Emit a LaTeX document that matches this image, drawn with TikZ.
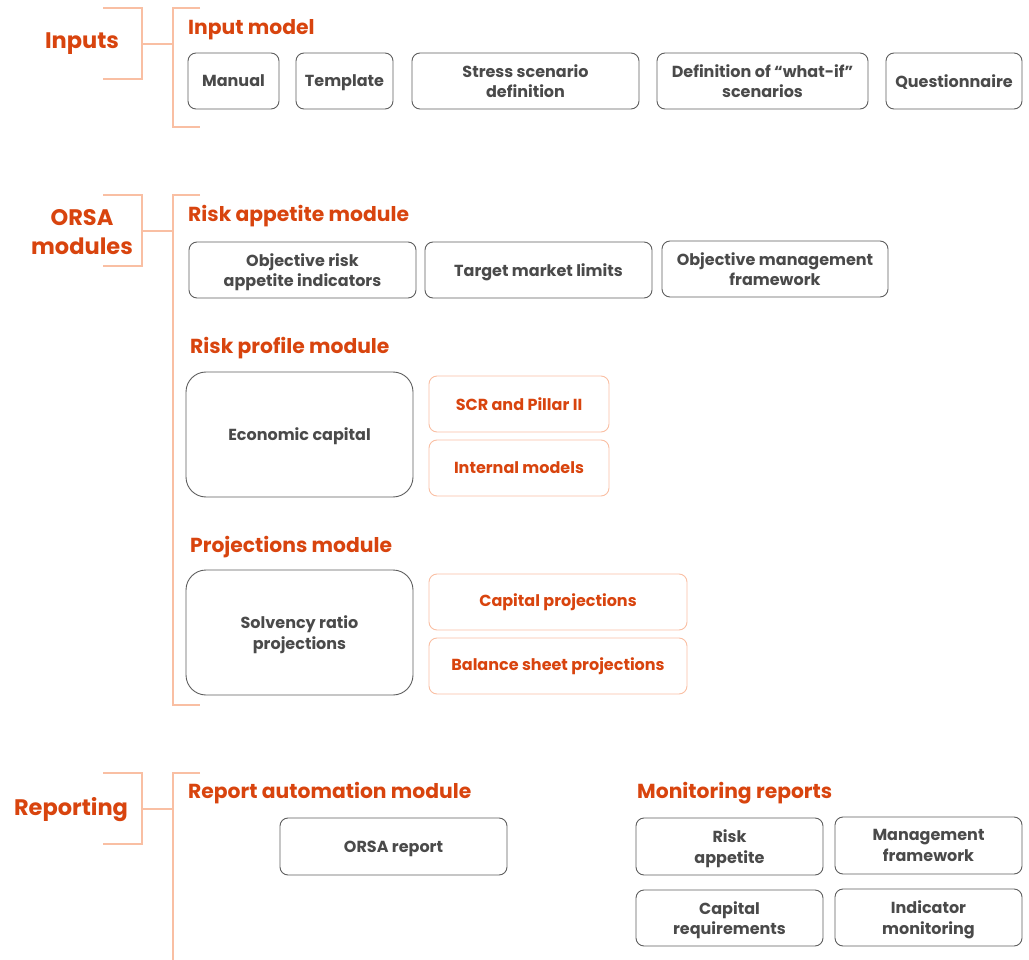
\documentclass[tikz,border=0pt]{standalone}
\usepackage{fontspec}
\setmainfont{Poppins}
\definecolor{orA}{HTML}{D8440E}
\definecolor{orL}{HTML}{F9BFA3}
\definecolor{grT}{HTML}{4A4A4A}
\definecolor{grB}{HTML}{5E5E5E}
\tikzset{
  gbox/.style={draw=grB, line width=0.9pt, rounded corners=8pt, text=grT, font=\bfseries\fontsize{16}{20.5}\selectfont, align=center, inner sep=0pt, text depth=0pt},
  bigbox/.style={gbox, rounded corners=20pt},
  obox/.style={draw=orL, line width=0.9pt, rounded corners=8pt, text=orA, font=\bfseries\fontsize{16}{20.5}\selectfont, align=center, inner sep=0pt},
  sect/.style={text=orA, font=\bfseries\fontsize{22.5}{29}\selectfont, align=center, inner sep=0pt},
  head/.style={text=orA, font=\bfseries\fontsize{20.3}{24}\selectfont, anchor=west, inner sep=0pt},
  brk/.style={draw=orL, line width=1.8pt}
}
\begin{document}
\begin{tikzpicture}[x=1pt,y=-1pt]
\useasboundingbox (0,0) rectangle (1029,960);
% ---------- Inputs ----------
\node[sect] (inputs) at (82,43.5) {Inputs};
\draw[brk] (103,8) -- (142,8) -- (142,79) -- (103,79);
\coordinate (i1) at (142,44); \coordinate (i2) at (173,44);
\draw[brk] (i1) -- (i2);
\draw[brk] (200,8) -- (173,8) -- (173,127) -- (200,127);
\node[head] (inmodel) at (188,30) {Input model};
\node[gbox, minimum width=91, minimum height=56] (manual) at (233.5,81) {Manual};
\node[gbox, minimum width=97, minimum height=56] (template) at (344.5,81) {Template};
\node[gbox, minimum width=227, minimum height=56] (stress) at (525.5,81) {Stress scenario\\definition};
\node[gbox, minimum width=211, minimum height=56] (whatif) at (762.5,81) {Definition of “what-if”\\scenarios};
\node[gbox, minimum width=136, minimum height=56] (quest) at (954,81) {Questionnaire};
% ---------- ORSA modules ----------
\node[sect] (orsa) at (82,232) {ORSA\\modules};
\draw[brk] (103,195) -- (142,195) -- (142,266) -- (103,266);
\coordinate (o1) at (142,231); \coordinate (o2) at (173,231);
\draw[brk] (o1) -- (o2);
\draw[brk] (200,195) -- (173,195) -- (173,705) -- (200,705);
\node[head] (ramod) at (188,216.5) {Risk appetite module};
\node[gbox, minimum width=227, minimum height=56] (ora) at (302.5,270) {Objective risk\\appetite indicators};
\node[gbox, minimum width=227, minimum height=56] (tml) at (538.5,270) {Target market limits};
\node[gbox, minimum width=226, minimum height=56] (omf) at (775,269) {Objective management\\framework};
\node[head] (rpmod) at (190,348.5) {Risk profile module};
\node[bigbox, minimum width=227, minimum height=125] (ecap) at (299.5,434.5) {Economic capital};
\node[obox, minimum width=180, minimum height=56] (scr) at (519,404) {SCR and Pillar II};
\node[obox, minimum width=180, minimum height=56] (intm) at (519,468) {Internal models};
\node[head] (pjmod) at (190,547.5) {Projections module};
\node[bigbox, minimum width=227, minimum height=125] (solv) at (299.5,632.5) {Solvency ratio\\projections};
\node[obox, minimum width=258, minimum height=56] (capp) at (558,602) {Capital projections};
\node[obox, minimum width=258, minimum height=56] (bsp) at (558,666) {Balance sheet projections};
% ---------- Reporting ----------
\node[sect] (rep) at (71,810) {Reporting};
\draw[brk] (103,773) -- (142,773) -- (142,844) -- (103,844);
\coordinate (r1) at (142,809); \coordinate (r2) at (173,809);
\draw[brk] (r1) -- (r2);
\draw[brk] (200,773) -- (173,773) -- (173,962);
\node[head] (ramod2) at (188,793.5) {Report automation module};
\node[gbox, minimum width=227, minimum height=57] (orsarep) at (393.5,846.5) {ORSA report};
\node[head] (monrep) at (637,793.5) {Monitoring reports};
\node[gbox, minimum width=187, minimum height=57] (mra) at (729.5,846.5) {Risk\\appetite};
\node[gbox, minimum width=187, minimum height=57] (mmf) at (928.5,845.5) {Management\\framework};
\node[gbox, minimum width=187, minimum height=56] (mcr) at (729.5,918) {Capital\\requirements};
\node[gbox, minimum width=187, minimum height=57] (mim) at (928.5,917.5) {Indicator\\monitoring};
\end{tikzpicture}
\end{document}
